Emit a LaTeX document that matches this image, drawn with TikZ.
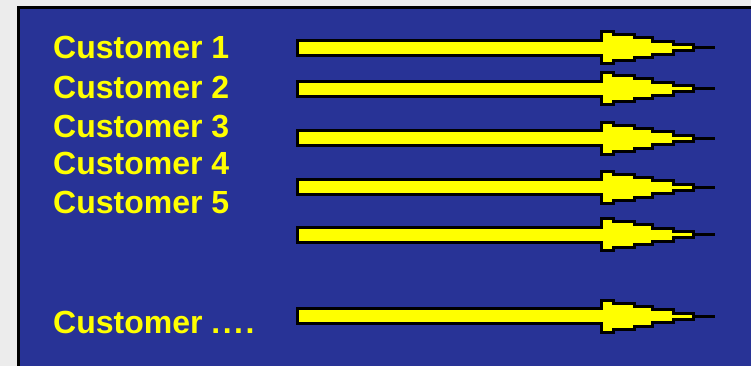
\documentclass[tikz,border=0pt]{standalone}
\usepackage{fontspec}
\setmainfont{Liberation Sans}
\definecolor{panelblue}{RGB}{40,51,150}
\definecolor{txtyellow}{RGB}{255,255,0}
\definecolor{paper}{RGB}{236,236,236}
\tikzset{
  custtext/.style={text=txtyellow, font=\fontsize{32}{32}\selectfont\bfseries, anchor=base west, inner sep=0pt},
  custarrow/.style={fill=txtyellow, draw=black, line width=3pt, line join=miter, miter limit=10},
  tipline/.style={draw=black, line width=3pt},
  panel/.style={fill=panelblue, draw=black, line width=3pt}
}
\begin{document}
\begin{tikzpicture}[x=1pt,y=1pt]
\useasboundingbox (0,0) rectangle (751,-366);
\fill[paper] (0,0) rectangle (751,-366);
\begin{scope}
\clip (0,0) rectangle (751,-366);
\draw[panel] (18.5,-7.5) rectangle (770,-390);
\end{scope}
% texts
\node[custtext] (c1) at (53,-59) {Customer 1};
\node[custtext] (c2) at (53,-99) {Customer 2};
\node[custtext] (c3) at (53,-138) {Customer 3};
\node[custtext] (c4) at (53,-175) {Customer 4};
\node[custtext] (c5) at (53,-213) {Customer 5};
\node[custtext] (c6) at (53,-333) {Customer .\kern2.5pt.\kern2.5pt.\kern2.5pt.};
% arrows
\foreach \n/\yy in {1/48,2/89,3/138.5,4/187,5/234.5,6/316} {
  \begin{scope}[shift={(0,-\yy)}]
    \coordinate (a\n) at (297.5,0);
    \coordinate (t\n) at (715,0);
    \draw[custarrow] (297.5,7.5) -- (601.5,7.5) -- (601.5,16) -- (613.5,16) -- (613.5,13)
      -- (634.5,13) -- (634.5,10) -- (652.5,10) -- (652.5,6.5) -- (673.5,6.5) -- (673.5,3)
      -- (693,3) -- (693,-3) -- (673.5,-3) -- (673.5,-6.5) -- (652.5,-6.5) -- (652.5,-10)
      -- (634.5,-10) -- (634.5,-13) -- (613.5,-13) -- (613.5,-16) -- (601.5,-16)
      -- (601.5,-7.5) -- (297.5,-7.5) -- cycle;
    \coordinate (h\n) at (693,0);
    \draw[tipline] (h\n) -- (t\n);
  \end{scope}
}
\end{tikzpicture}
\end{document}
